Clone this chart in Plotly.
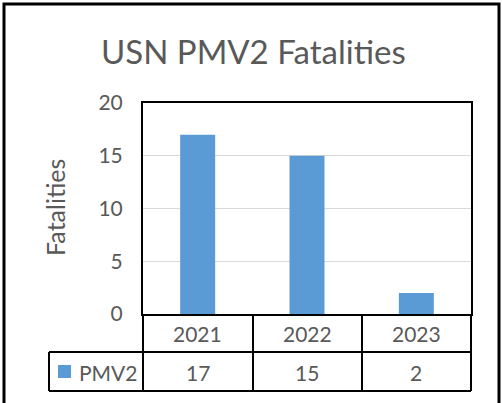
import plotly.graph_objects as go

categories = ["2021", "2022", "2023"]
values = [17, 15, 2]
series_name = "PMV2"
title_text = "USN PMV2 Fatalities"
y_title = "Fatalities"
y_ticks = [0, 5, 10, 15, 20]

W, H = 502, 403
L, R, T, B = 143, 471, 103, 314  # plot area in pixels
FONT = "Lato"
GREY = "#595959"
BLUE = "#5B9BD5"


def px(x):
    return (x - L) / (R - L)


def py(y):
    return (B - y) / (B - T)


fig = go.Figure()
fig.add_trace(go.Bar(x=categories, y=values, marker=dict(color=BLUE, line=dict(width=0)),
                     name=series_name, showlegend=False))

fig.update_layout(
    width=W, height=H,
    margin=dict(l=L, r=W - R, t=T, b=H - B, pad=0),
    paper_bgcolor="white", plot_bgcolor="white",
    bargap=0.68,
    font=dict(family=FONT, color=GREY),
    showlegend=False,
)
fig.update_xaxes(type="category", range=[-0.5, len(categories) - 0.5], showticklabels=False,
                 showline=True, mirror=True, linecolor="black", linewidth=2, showgrid=False,
                 ticks="", automargin=False)
fig.update_yaxes(range=[0, 20], tickvals=y_ticks, showline=True, mirror=True,
                 linecolor="black", linewidth=2, gridcolor="#D9D9D9", gridwidth=1,
                 tickfont=dict(size=21, color=GREY), ticklabelstandoff=14,
                 zeroline=False, ticks="", automargin=False)

ann = []
ann.append(dict(text=title_text, x=px(253), y=py(51), xref="paper", yref="paper",
                showarrow=False, font=dict(size=33, color=GREY), xanchor="center", yanchor="middle"))
ann.append(dict(text=y_title, x=px(55), y=py(208), xref="paper", yref="paper", textangle=-90,
                showarrow=False, font=dict(size=25, color=GREY), xanchor="center", yanchor="middle"))
for i, (c, v) in enumerate(zip(categories, values)):
    ann.append(dict(text=c, x=i, xref="x", y=py(333), yref="paper", showarrow=False,
                    font=dict(size=21, color=GREY), xanchor="center", yanchor="middle"))
    ann.append(dict(text=str(v), x=i, xref="x", y=py(372), yref="paper", showarrow=False,
                    font=dict(size=21, color=GREY), xanchor="center", yanchor="middle"))
ann.append(dict(text=series_name, x=px(108), y=py(372), xref="paper", yref="paper",
                showarrow=False, font=dict(size=21, color=GREY), xanchor="center", yanchor="middle"))
fig.update_layout(annotations=ann)

shapes = []
line = dict(color="black", width=2)


def seg(x0, y0, x1, y1, ln=line):
    shapes.append(dict(type="line", xref="paper", yref="paper", x0=px(x0), y0=py(y0),
                       x1=px(x1), y1=py(y1), line=ln))


# table lines
seg(49, 352, 471, 352)
seg(49, 391, 471, 391)
seg(49, 352, 49, 391)
for xv in [143, 253, 362, 471]:
    seg(xv, 314, xv, 391)
# legend key
shapes.append(dict(type="rect", xref="paper", yref="paper", x0=px(58), x1=px(71),
                   y0=py(365), y1=py(378), fillcolor=BLUE, line=dict(width=0)))
# outer border
shapes.append(dict(type="rect", xref="paper", yref="paper", x0=px(4), x1=px(499),
                   y0=py(4), y1=py(420), line=dict(color="black", width=3),
                   fillcolor="rgba(0,0,0,0)"))
fig.update_layout(shapes=shapes)

fig.write_html("out.html", config={"displayModeBar": False},
               post_script="document.body.style.margin='0';")
